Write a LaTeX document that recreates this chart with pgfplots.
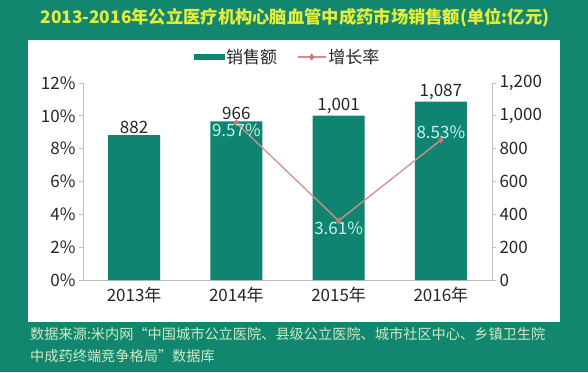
\documentclass[border=0pt]{standalone}
\usepackage{fontspec}
\setmainfont{Noto Sans CJK SC}
\usepackage{pgfplots}
\pgfplotsset{compat=1.18}
\definecolor{bgteal}{HTML}{13866F}
\definecolor{barteal}{HTML}{0F8470}
\definecolor{titley}{HTML}{E3EE3C}
\definecolor{foot}{HTML}{CDEBC3}
\definecolor{linec}{HTML}{D39089}
\definecolor{markc}{HTML}{C47A72}
\definecolor{pctc}{HTML}{C6F3EE}
\definecolor{axgray}{HTML}{BFBFBF}
\definecolor{txt}{HTML}{262626}
\pgfplotsset{lineleg/.style={legend image code/.code={\draw[mark repeat=2,mark phase=2,##1] plot coordinates {(0pt,0pt) (14pt,0pt) (28pt,0pt)};}}}
\begin{document}
\begin{tikzpicture}
\useasboundingbox (0pt,0pt) rectangle (588pt,372pt);
\fill[bgteal] (0pt,0pt) rectangle (588pt,372pt);
\fill[white] (28pt,50pt) rectangle (560pt,332pt);
\node[font=\fontsize{17.3}{19}\selectfont\bfseries, text=titley] at (295pt,354pt) {2013-2016年公立医疗机构心脑血管中成药市场销售额(单位:亿元)};
\node[anchor=west, font=\fontsize{14.2}{16}\selectfont, text=foot, inner sep=0pt] at (30pt,38pt) {数据来源:米内网“中国城市公立医院、县级公立医院、城市社区中心、乡镇卫生院};
\node[anchor=west, font=\fontsize{14.2}{16}\selectfont, text=foot, inner sep=0pt] at (30pt,16pt) {中成药终端竞争格局”数据库};

\begin{axis}[at={(83pt,92pt)}, anchor=south west, scale only axis, width=409pt, height=197pt,
  xmin=-0.5, xmax=3.5, ymin=0, ymax=1200,
  axis y line*=right, axis x line*=bottom,
  xtick={0,1,2,3}, xticklabels={2013年,2014年,2015年,2016年},
  ytick={0,200,...,1200}, yticklabels={0,200,400,600,800,{1,000},{1,200}},
  axis line style={axgray, line width=0.8pt}, tick style={axgray, line width=0.8pt}, major tick length=4pt,
  xtick style={draw=none}, tick align=outside,
  /pgf/number format/assume math mode=true,
  ticklabel style={font=\fontsize{17}{20}\selectfont, text=txt},
  ybar, bar width=52pt,
  nodes near coords, point meta=explicit symbolic,
  nodes near coords style={font=\fontsize{17}{20}\selectfont, text=txt, inner sep=1.5pt},
]
\addplot[fill=barteal, draw=none] coordinates {(0,882)[882] (1,966)[966] (2,1001)[{1,001}] (3,1087)[{1,087}]};
\end{axis}

\begin{axis}[at={(83pt,92pt)}, anchor=south west, scale only axis, width=409pt, height=197pt,
  xmin=-0.5, xmax=3.5, ymin=0, ymax=12,
  axis y line*=left, hide x axis,
  ytick={0,2,...,12}, yticklabels={0\%,2\%,4\%,6\%,8\%,10\%,12\%},
  axis line style={axgray, line width=0.8pt}, tick style={axgray, line width=0.8pt}, major tick length=4pt,
  tick align=outside,
  ticklabel style={font=\fontsize{17}{20}\selectfont, text=txt},
  legend style={at={(0.5,1.132)}, anchor=center, draw=none, fill=none, legend columns=2,
    font=\fontsize{17}{20}\selectfont, text=txt,
    /tikz/every even column/.append style={column sep=18pt}},
]
\addlegendimage{legend image code/.code={\fill[barteal] (0pt,-2.5pt) rectangle (30pt,2.5pt);}}
\addlegendentry{销售额}
\addplot[linec, line width=1.3pt, mark=diamond*, mark size=2.5pt, mark options={fill=markc, draw=markc}, lineleg]
  coordinates {(1,9.57) (2,3.61) (3,8.53)};
\addlegendentry{增长率}
\addplot[draw=none, mark=none, forget plot, nodes near coords, point meta=explicit symbolic,
  nodes near coords style={anchor=north, text=pctc, font=\fontsize{17}{20}\selectfont, inner sep=1pt}]
  coordinates {(1,9.57)[9.57\%] (2,3.61)[3.61\%]};
\addplot[draw=none, mark=none, forget plot, nodes near coords, point meta=explicit symbolic,
  nodes near coords style={anchor=south, text=pctc, font=\fontsize{17}{20}\selectfont, inner sep=1pt}]
  coordinates {(3,8.53)[8.53\%]};
\end{axis}
\end{tikzpicture}
\end{document}
